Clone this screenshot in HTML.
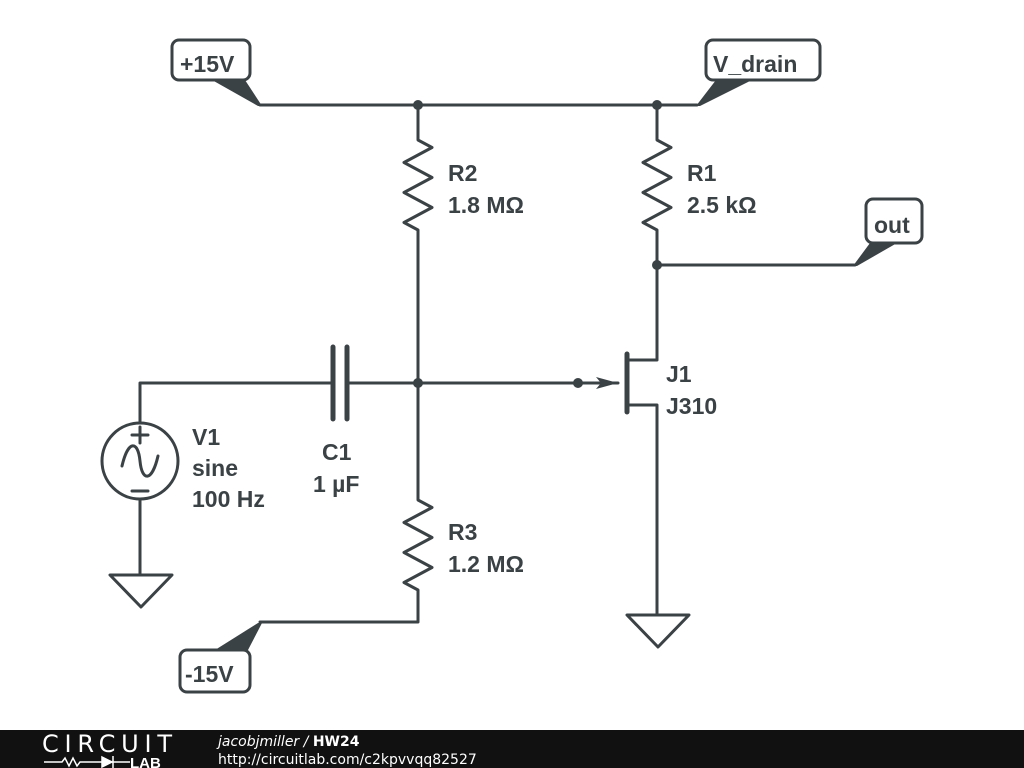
<!DOCTYPE html>
<html><head><meta charset="utf-8"><style>
html,body{margin:0;padding:0;background:#fff;width:1024px;height:768px;overflow:hidden}
svg text{font-family:"Liberation Sans",sans-serif;font-weight:bold;fill:#3b4245}
</style></head><body>
<svg width="1024" height="768" viewBox="0 0 1024 768" xmlns="http://www.w3.org/2000/svg">
<g stroke="#3b4245" stroke-width="3" fill="none" stroke-linejoin="round" stroke-linecap="round">
<path d="M260 105H697"/>
<path d="M418 105V140 l14 7.5 -28 15 28 15 -28 15 28 15 -28 15 14 7.5V500 l14 7.5 -28 15 28 15 -28 15 28 15 -28 15 14 7.5V622H260"/>
<path d="M657 105V140 l14 7.5 -28 15 28 15 -28 15 28 15 -28 15 14 7.5V360H627"/>
<path d="M657 265H855"/>
<path d="M627 405H657V615"/>
<path d="M627 615H689L658 647Z"/>
<path d="M140 423V383H333M347 383H618"/>
<path d="M140 499V575"/>
<path d="M110 575H172L141 607Z"/>
<circle cx="140" cy="461" r="38"/>
<path d="M140 427V443M132 435H148M132 491H148"/>
<path d="M122 466 C128 440 138 440 140 461 C142 482 152 482 158 456"/>
<rect x="172" y="40" width="78" height="40" rx="7"/>
<rect x="706" y="40" width="114" height="40" rx="7"/>
<rect x="866" y="199" width="56" height="44" rx="7"/>
<rect x="180" y="650" width="70" height="42" rx="7"/>
</g>
<g stroke="#3b4245" stroke-width="5" stroke-linecap="round">
<path d="M627 354V412"/>
<path d="M333 347V419M347 347V419"/>
</g>
<g fill="#3b4245">
<circle cx="418" cy="105" r="5"/><circle cx="657" cy="105" r="5"/>
<circle cx="657" cy="265" r="5"/><circle cx="418" cy="383" r="5"/>
<circle cx="578" cy="383" r="5"/>
<path d="M596 377L618 383L596 389L601 383Z"/>
<path d="M212 80H245L262 106H258Z"/>
<path d="M716 80H752L700 106H696Z"/>
<path d="M870 243H897L857 266H853Z"/>
<path d="M215 650H248L262 623H258Z"/>
</g>
<g font-size="23">
<text x="180" y="72">+15V</text>
<text x="713" y="72">V_drain</text>
<text x="874" y="233">out</text>
<text x="185" y="682">-15V</text>
<text x="448" y="181">R2</text><text x="448" y="213">1.8 MΩ</text>
<text x="687" y="181">R1</text><text x="687" y="213">2.5 kΩ</text>
<text x="666" y="382">J1</text><text x="666" y="414">J310</text>
<text x="448" y="540">R3</text><text x="448" y="572">1.2 MΩ</text>
<text x="192" y="445">V1</text><text x="192" y="476">sine</text><text x="192" y="507">100 Hz</text>
<text x="322" y="460">C1</text><text x="313" y="492">1 µF</text>
</g>
<rect x="0" y="730" width="1024" height="38" fill="#111"/>
<text x="42" y="752" font-size="24" style="font-weight:normal;fill:#fff;font-family:'DejaVu Sans',sans-serif" textLength="130">CIRCUIT</text>
<path d="M44 762H62l3 -4 4 8 4 -8 4 8 3 -4H96M96 762H130" stroke="#fff" stroke-width="1.5" fill="none"/>
<path d="M102 757L112 762L102 767Z M113 756V768" fill="#fff" stroke="#fff" stroke-width="1.5"/>
<text x="130" y="768" font-size="15" style="fill:#fff">LAB</text>
<text x="218" y="746" font-size="14" style="fill:#fff;font-weight:normal;font-style:italic;font-family:'DejaVu Sans',sans-serif">jacobjmiller / <tspan style="font-weight:bold;font-style:normal">HW24</tspan></text>
<text x="218" y="764" font-size="14" style="fill:#fff;font-weight:normal;font-family:'DejaVu Sans',sans-serif">http://circuitlab.com/c2kpvvqq82527</text>
</svg>
</body></html>
